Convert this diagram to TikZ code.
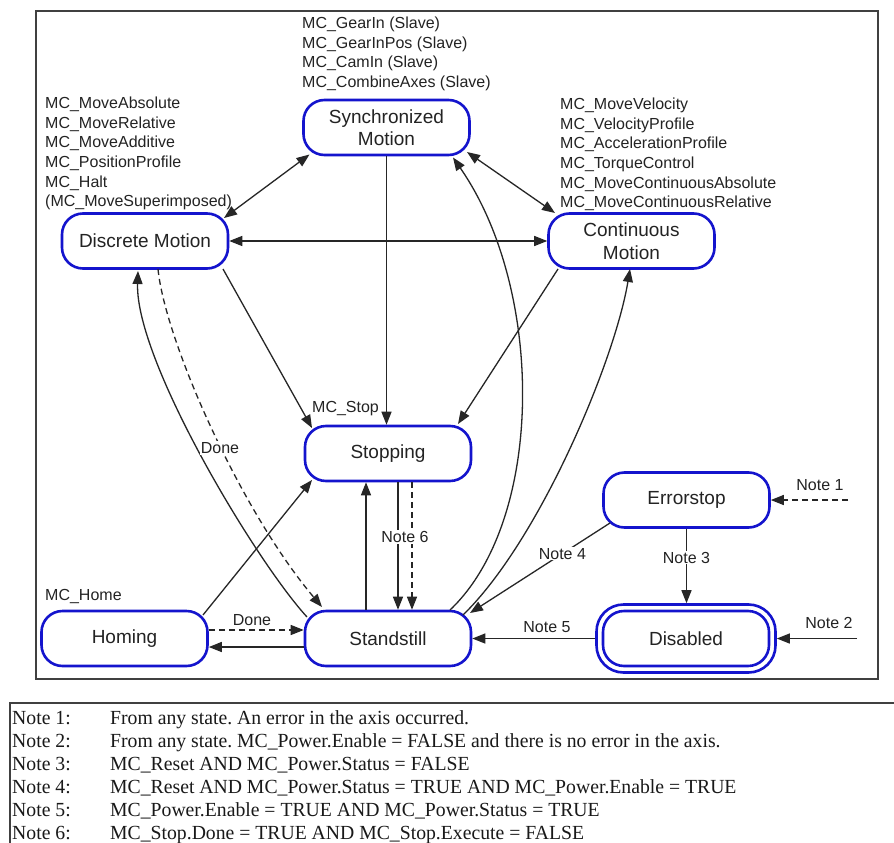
\documentclass[tikz,border=0pt]{standalone}
\usepackage{fontspec}
\setmainfont{Liberation Sans}
\newfontfamily\notefont[FakeStretch=0.985]{Liberation Serif}
\usetikzlibrary{arrows.meta,calc}
\definecolor{stblue}{RGB}{20,20,205}
\definecolor{txt}{RGB}{35,35,35}
\frenchspacing
\begin{document}
\begin{tikzpicture}[x=1pt,y=-1pt,
 state/.style={draw=stblue,line width=2.6pt,rounded corners=21pt,minimum width=166pt,minimum height=55pt,inner sep=0pt,font=\fontsize{19}{22.5}\selectfont,text=txt,align=center},
 ann/.style={inner sep=0pt,anchor=north west,align=left,font=\fontsize{16}{19.6}\selectfont,text=txt},
 lab/.style={inner sep=1pt,font=\fontsize{16}{19}\selectfont,text=txt},
 note/.style={inner sep=0pt,anchor=base west,font=\notefont\fontsize{20}{24}\selectfont\frenchspacing,text=black!90},
 conn/.style={line width=1.3pt,draw=black!85,-{Triangle[length=13pt,width=10pt]}},
 twoway/.style={conn,{Triangle[length=13pt,width=10pt]}-{Triangle[length=13pt,width=10pt]}},
 dsh/.style={dash pattern=on 6pt off 4pt}
]
\useasboundingbox (0,0) rectangle (894,843);
\fill[white] (0,0) rectangle (894,843);
% frames
\draw[line width=1.3pt,draw=black!75] (36,11) rectangle (878,679);
\draw[line width=1.3pt,draw=black!75] (894,703) -- (10,703) -- (10,843);

% states
\node[state] (sync) at (386.5,127.5) {Synchronized\\Motion};
\node[state] (disc) at (145,241) {Discrete Motion};
\node[state] (cont) at (631.5,241) {Continuous\\Motion};
\node[state] (stop) at (388,453.5) {Stopping};
\node[state] (stand) at (388,638.5) {Standstill};
\node[state] (hom) at (124.5,638.5) {Homing};
\node[state] (err) at (686.5,500) {Errorstop};
\node[state] (dis) at (686,638.5) {Disabled};
\node[draw=stblue,line width=2.6pt,rounded corners=27pt,minimum width=179pt,minimum height=68pt,inner sep=0pt] (diso) at (686,638.5) {};

% annotations
\node[ann] (annsync) at (302,17) {MC\_GearIn (Slave)\\MC\_GearInPos (Slave)\\MC\_CamIn (Slave)\\MC\_CombineAxes (Slave)};
\node[ann] (anndisc) at (45,97) {MC\_MoveAbsolute\\MC\_MoveRelative\\MC\_MoveAdditive\\MC\_PositionProfile\\MC\_Halt\\(MC\_MoveSuperimposed)};
\node[ann] (anncont) at (560,98) {MC\_MoveVelocity\\MC\_VelocityProfile\\MC\_AccelerationProfile\\MC\_TorqueControl\\MC\_MoveContinuousAbsolute\\MC\_MoveContinuousRelative};
\node[ann,anchor=west] (mcstop) at (312,409) {MC\_Stop};
\node[ann,anchor=west] (mchome) at (45,596) {MC\_Home};

% connectors
\draw[twoway] ($(disc)+(79,-23)$) -- ($(sync)+(-77,27)$);
\draw[twoway] (disc.east) -- (cont.west);
\draw[twoway] ($(sync)+(80.5,24.5)$) -- ($(cont)+(-76.5,-28)$);
\draw[conn] (sync.south) -- (sync.south |- stop.north);
\draw[conn] ($(disc)+(78,28)$) -- ($(stop)+(-76,-25.5)$);
\draw[conn] ($(cont)+(-73.5,28)$) -- ($(stop)+(70,-29.5)$);
\draw[conn] ($(stand)+(-81,-21.5)$) .. controls +(-52,-57) and +(-3,89) .. ($(disc)+(-7,30)$);
\draw[conn,dsh] ($(disc)+(13,28)$) .. controls +(7,71) and +(-82,-97) .. ($(stand)+(-66,-31.5)$);
\node[lab,fill=white] (done1) at (220,448) {Done};
\draw[conn] ($(hom)+(78.5,-23.5)$) -- ($(stop)+(-76,26.5)$);
\draw[conn,dsh] ($(hom.east)+(0,-8.5)$) -- ($(stand.west)+(0,-8.5)$);
\draw[conn] ($(stand.west)+(0,8.5)$) -- ($(hom.east)+(0,8.5)$);
\node[lab] (done2) at (252,620) {Done};
\draw[conn] ($(stand.north)+(-22,0)$) -- ($(stop.south)+(-22,0)$);
\draw[conn] ($(stop.south)+(10,0)$) -- ($(stand.north)+(10,0)$);
\draw[conn,dsh] ($(stop.south)+(24,0)$) -- ($(stand.north)+(24,0)$);
\node[lab,fill=white] (note6) at (405,537) {Note 6};
\draw[conn] ($(stand)+(62,-28.5)$) .. controls +(95,-90) and +(92,132.5) .. ($(sync)+(66.5,30)$);
\draw[conn] ($(stand)+(75,-23.5)$) .. controls +(77,-75) and +(-15,91) .. ($(cont)+(-1.5,28)$);
\draw[conn] ($(err)+(-76.5,23)$) -- node[lab,fill=white,pos=0.34] (note4) {Note 4} ($(stand)+(82,-25.5)$);
\draw[conn] (err.south) -- node[lab,fill=white,pos=0.39] (note3) {Note 3} (err.south |- diso.north);
\draw[conn] (diso.west) -- (stand.east);
\node[lab] (note5) at (547,627) {Note 5};
\coordinate (n1) at (848,500);
\draw[conn,dsh] (n1) -- (err.east);
\node[lab] (note1) at (820,485) {Note 1};
\coordinate (n2) at (857,638.5);
\draw[conn] (n2) -- (diso.east);
\node[lab] (note2) at (829,623) {Note 2};

% notes table
\node[note] (nl1) at (12,724) {Note 1:};
\node[note] (nt1) at (110,724) {From any state. An error in the axis occurred.};
\node[note] (nl2) at (12,747.3) {Note 2:};
\node[note] (nt2) at (110,747.3) {From any state. MC\_Power.Enable = FALSE and there is no error in the axis.};
\node[note] (nl3) at (12,770) {Note 3:};
\node[note] (nt3) at (110,770) {MC\_Reset AND MC\_Power.Status = FALSE};
\node[note] (nl4) at (12,793.3) {Note 4:};
\node[note] (nt4) at (110,793.3) {MC\_Reset AND MC\_Power.Status = TRUE AND MC\_Power.Enable = TRUE};
\node[note] (nl5) at (12,816.7) {Note 5:};
\node[note] (nt5) at (110,816.7) {MC\_Power.Enable = TRUE AND MC\_Power.Status = TRUE};
\node[note] (nl6) at (12,839.3) {Note 6:};
\node[note] (nt6) at (110,839.3) {MC\_Stop.Done = TRUE AND MC\_Stop.Execute = FALSE};
\end{tikzpicture}
\end{document}
